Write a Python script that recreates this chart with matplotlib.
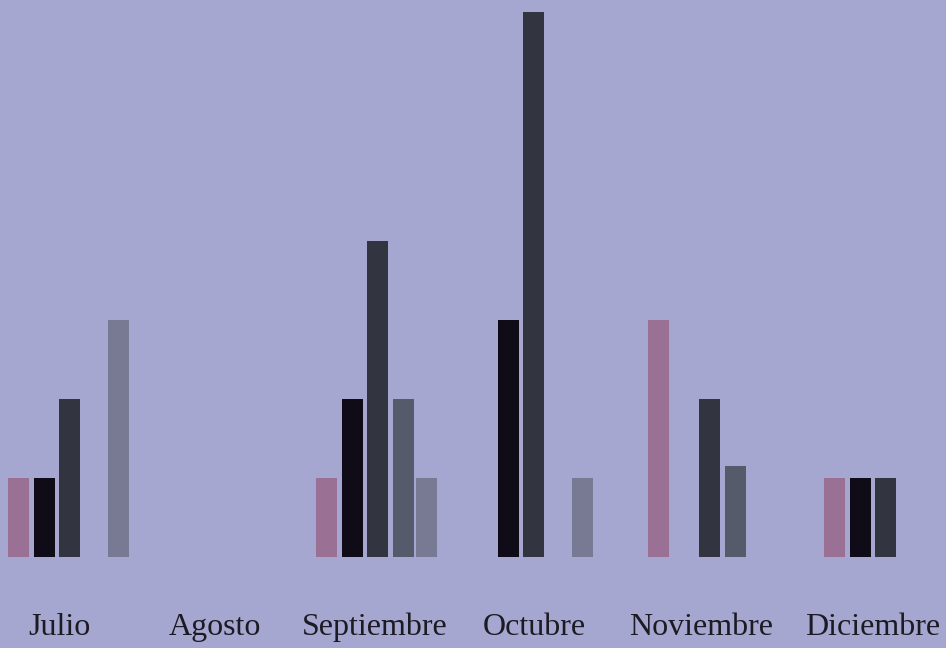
import numpy as np
import matplotlib
matplotlib.use("Agg")
import matplotlib.pyplot as plt

# data
months = ["Julio", "Agosto", "Septiembre", "Octubre", "Noviembre", "Diciembre"]
serie_a = [1, 0, 1, 0, 3, 1]
serie_b = [1, 0, 2, 3, 0, 1]
serie_c = [2, 0, 4, 6.9, 2, 1]
serie_d = [0, 0, 2, 0, 1.15, 0]
serie_e = [3, 0, 1, 1, 0, 0]

series = [serie_a, serie_b, serie_c, serie_d, serie_e]
colors = ["#9a7095", "#0f0c17", "#32343f", "#555b6b", "#787a93"]
bg = "#a6a7d0"

# layout (pixel-like x units across the figure)
group_x = [69.5, 223, 377.5, 533.5, 709.5, 885.5]
label_x = [59, 215, 375, 534, 701, 873]
offsets = [-51, -25.5, 0, 25.5, 48.5]
bar_w = 21
px_per_unit = 79.0
base_px = 557

fig = plt.figure(figsize=(9.46, 6.48), dpi=100)
fig.patch.set_facecolor(bg)
ax = fig.add_axes([0, 0, 1, 1])
ax.set_facecolor(bg)

for vals, off, col in zip(series, offsets, colors):
    xs = np.array(group_x) + off
    ax.bar(xs, vals, width=bar_w, color=col, linewidth=0)

ax.set_xlim(0, 946)
ax.set_ylim(-(648 - base_px) / px_per_unit, base_px / px_per_unit)

for lx, m in zip(label_x, months):
    ax.text(lx, -(635 - base_px) / px_per_unit, m, ha="center", va="baseline",
            fontsize=23, family="Liberation Serif", color="#1c1a22")

ax.axis("off")
fig.savefig("out.png", dpi=100, facecolor=bg)
